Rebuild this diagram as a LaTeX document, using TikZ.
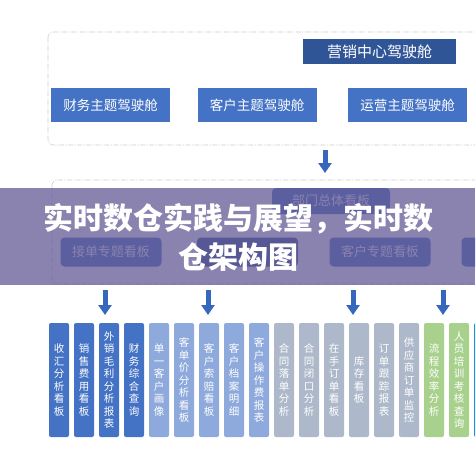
\documentclass[tikz,border=0pt]{standalone}
\usepackage{fontspec}
\setmainfont{Noto Sans CJK SC}
\newfontfamily\titlefont{Noto Sans CJK SC Black}
\usepackage{tikz}
\usetikzlibrary{positioning, arrows.meta}
\definecolor{deepblue}{HTML}{2F5597}
\definecolor{mainblue}{HTML}{4472C4}
\definecolor{paleblue}{HTML}{8EA9DB}
\definecolor{slategray}{HTML}{ADB9CA}
\definecolor{softgreen}{HTML}{A9D18E}
\definecolor{brightblue}{HTML}{1F8FE0}
\definecolor{arrowblue}{HTML}{3766BD}
\definecolor{bandpurple}{RGB}{100,89,148}

\begin{document}
\begin{tikzpicture}[
  x=1pt, y=-1pt,
  every node/.style={text=white, inner sep=0pt},
  cockpit/.style={fill=mainblue, minimum width=119pt, minimum height=34pt, font=\fontsize{13.5}{16}\selectfont},
  board/.style={fill=mainblue, rounded corners=4pt, minimum width=101pt, minimum height=29pt, font=\fontsize{13}{16}\selectfont},
  report/.style={rounded corners=2pt, minimum width=20pt, minimum height=114pt, align=center, font=\fontsize{10.5}{12.5}\selectfont},
  frame/.style={draw=gray!40, rounded corners=5pt, line width=0.6pt, dash pattern=on 5pt off 1.5pt on 1pt off 1.5pt},
  flow/.style={draw=arrowblue, line width=5pt, -{Triangle[width=13pt,length=10pt]}},
  veil/.style={fill=bandpurple, fill opacity=0.75}
]
\useasboundingbox (0,0) rectangle (475,475);
\clip (0,0) rectangle (475,475);

% Top frame: cockpits
\draw[frame] (48,32) rectangle (495,145);
\node[cockpit, fill=deepblue, minimum width=153pt, minimum height=25pt, font=\fontsize{15}{18}\selectfont] (market) at (379.5,51.5) {营销中心驾驶舱};
\node[cockpit] (finance) at (110.5,105) {财务主题驾驶舱};
\node[cockpit] (client) at (257,105) {客户主题驾驶舱};
\node[cockpit] (operate) at (407.5,105) {运营主题驾驶舱};

% Arrow between frames
\coordinate (tail0) at (325,150);
\coordinate (tip0) at (325,173);
\draw[flow] (tail0) -- (tip0);

% Middle frame: boards
\draw[frame] (52,180) rectangle (495,284);
\node[board, minimum width=118pt, minimum height=26pt] (dept) at (331,201) {部门总体看板};
\node[board] (order) at (111,252) {接单专题看板};
\node[board, fill=deepblue] (hidden) at (247.5,252) {};
\node[board] (custom) at (380,252) {客户专题看板};
\node[board] (edge) at (512,252) {};

% Arrows down to the reports
\foreach \x [count=\i] in {105, 208, 353, 443} {
  \coordinate (tail\i) at (\x,290);
  \coordinate (tip\i) at (\x,315);
  \draw[flow] (tail\i) -- (tip\i);
}

% Bottom row: reports
\foreach \txt/\col [count=\i from 0] in {
  {收\\汇\\分\\析\\看\\板}/mainblue,
  {销\\售\\费\\用\\看\\板}/mainblue,
  {外\\销\\毛\\利\\分\\析\\报\\表}/mainblue,
  {财\\务\\综\\合\\查\\询}/mainblue,
  {单\\一\\客\\户\\画\\像}/paleblue,
  {客\\单\\价\\分\\析\\看\\板}/paleblue,
  {客\\户\\索\\赔\\看\\板}/paleblue,
  {客\\户\\档\\案\\明\\细}/paleblue,
  {客\\户\\操\\作\\费\\报\\表}/paleblue,
  {合\\同\\落\\单\\分\\析}/slategray,
  {合\\同\\闭\\口\\分\\析}/slategray,
  {在\\手\\订\\单\\看\\板}/slategray,
  {库\\存\\看\\板}/slategray,
  {订\\单\\跟\\踪\\报\\表}/slategray,
  {供\\应\\商\\订\\单\\监\\控}/slategray,
  {流\\程\\效\\率\\分\\析}/softgreen,
  {人\\员\\培\\训\\考\\核\\查\\询}/softgreen,
  {}/brightblue} {
  \node[report, fill=\col] (rep\i) at (59+25*\i,380) {\txt};
}

% Title band over the middle frame
\fill[veil] (0,188) rectangle (475,285);
\node[font=\titlefont\fontsize{30}{39}\selectfont, align=center] (title) at (239,237.5)
  {实时数仓实践与展望，实时数\\仓架构图};

\end{tikzpicture}
\end{document}
